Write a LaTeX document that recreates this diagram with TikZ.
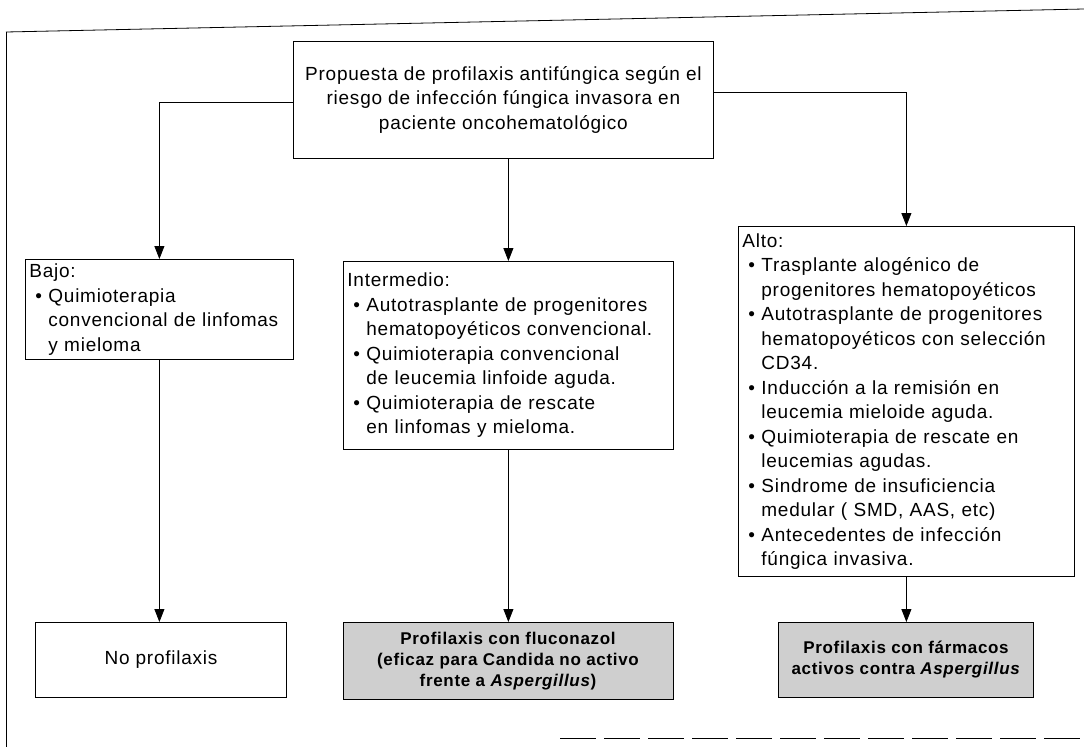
\documentclass[tikz,border=0pt]{standalone}
\usepackage{fontspec}
\setmainfont[LetterSpace=4]{Liberation Sans}
\usetikzlibrary{arrows.meta}
\newcommand\bul{\hspace*{6pt}\makebox[13pt][l]{\textbullet}}
\newcommand\ind{\hspace*{19pt}}
\begin{document}
\begin{tikzpicture}[x=1pt,y=-1pt,
  ln/.style={line width=0.8pt},
  box/.style={draw, line width=0.8pt, rectangle, inner ysep=0pt},
  txt/.style={font=\fontsize{19}{24.5}\selectfont},
  lbox/.style={box, txt, align=left, anchor=north west, inner xsep=4pt},
  res/.style={box, anchor=north, align=center, inner xsep=2pt,
     font=\fontsize{17}{21}\selectfont\bfseries},
  shade/.style={fill=gray!38},
  arr/.style={line width=0.8pt, -{Triangle[length=13pt,width=10pt]}}]
\useasboundingbox (0,0) rectangle (1084,747);
% outer frame
\draw[ln] (6,32) -- (1084,9);
\draw[ln] (6,32) -- (6,747);
\draw[ln, dash pattern=on 36pt off 8pt] (560,738) -- (1084,738);
% nodes
\node[box, txt, align=center, anchor=north west, minimum width=420pt, minimum height=117pt] (top) at (293,41)
  {Propuesta de profilaxis antifúngica según el\\ riesgo de infección fúngica invasora en\\ paciente oncohematológico};
\node[lbox, text width=260pt, minimum height=100pt] (bajo) at (25,259)
  {Bajo:\\ \bul Quimioterapia\\ \ind convencional de linfomas\\ \ind y mieloma};
\node[lbox, text width=322pt, minimum height=188pt] (inter) at (343,261)
  {Intermedio:\\
   \bul Autotrasplante de progenitores\\ \ind hematopoyéticos convencional.\\
   \bul Quimioterapia convencional\\ \ind de leucemia linfoide aguda.\\
   \bul Quimioterapia de rescate\\ \ind en linfomas y mieloma.};
\node[lbox, text width=328pt, minimum height=350pt] (alto) at (738,226)
  {Alto:\\
   \bul Trasplante alogénico de\\ \ind progenitores hematopoyéticos\\
   \bul Autotrasplante de progenitores\\ \ind hematopoyéticos con selección\\ \ind CD34.\\
   \bul Inducción a la remisión en\\ \ind leucemia mieloide aguda.\\
   \bul Quimioterapia de rescate en\\ \ind leucemias agudas.\\
   \bul Sindrome de insuficiencia\\ \ind medular ( SMD, AAS, etc)\\
   \bul Antecedentes de infección\\ \ind fúngica invasiva.};
\node[res, minimum width=251pt, minimum height=75pt, font=\fontsize{19}{24}\selectfont] (nop) at (161,622) {No profilaxis};
\node[res, shade, minimum width=330pt, minimum height=77pt] (flu) at (508,622)
  {Profilaxis con fluconazol\\ (eficaz para Candida no activo\\ frente a \textit{Aspergillus})};
\node[res, shade, minimum width=255pt, minimum height=75pt] (asp) at (906,622)
  {Profilaxis con fármacos\\ activos contra \textit{Aspergillus}};
% connectors
\draw[arr] ([yshift=-2pt]top.west) -| (bajo.north);
\draw[arr] (top.south -| inter.north) -- (inter.north);
\draw[arr] ([yshift=7.5pt]top.east) -| (alto.north);
\draw[arr] (bajo.south) -- (bajo.south |- nop.north);
\draw[arr] (inter.south) -- (inter.south |- flu.north);
\draw[arr] (alto.south) -- (alto.south |- asp.north);
\end{tikzpicture}
\end{document}
